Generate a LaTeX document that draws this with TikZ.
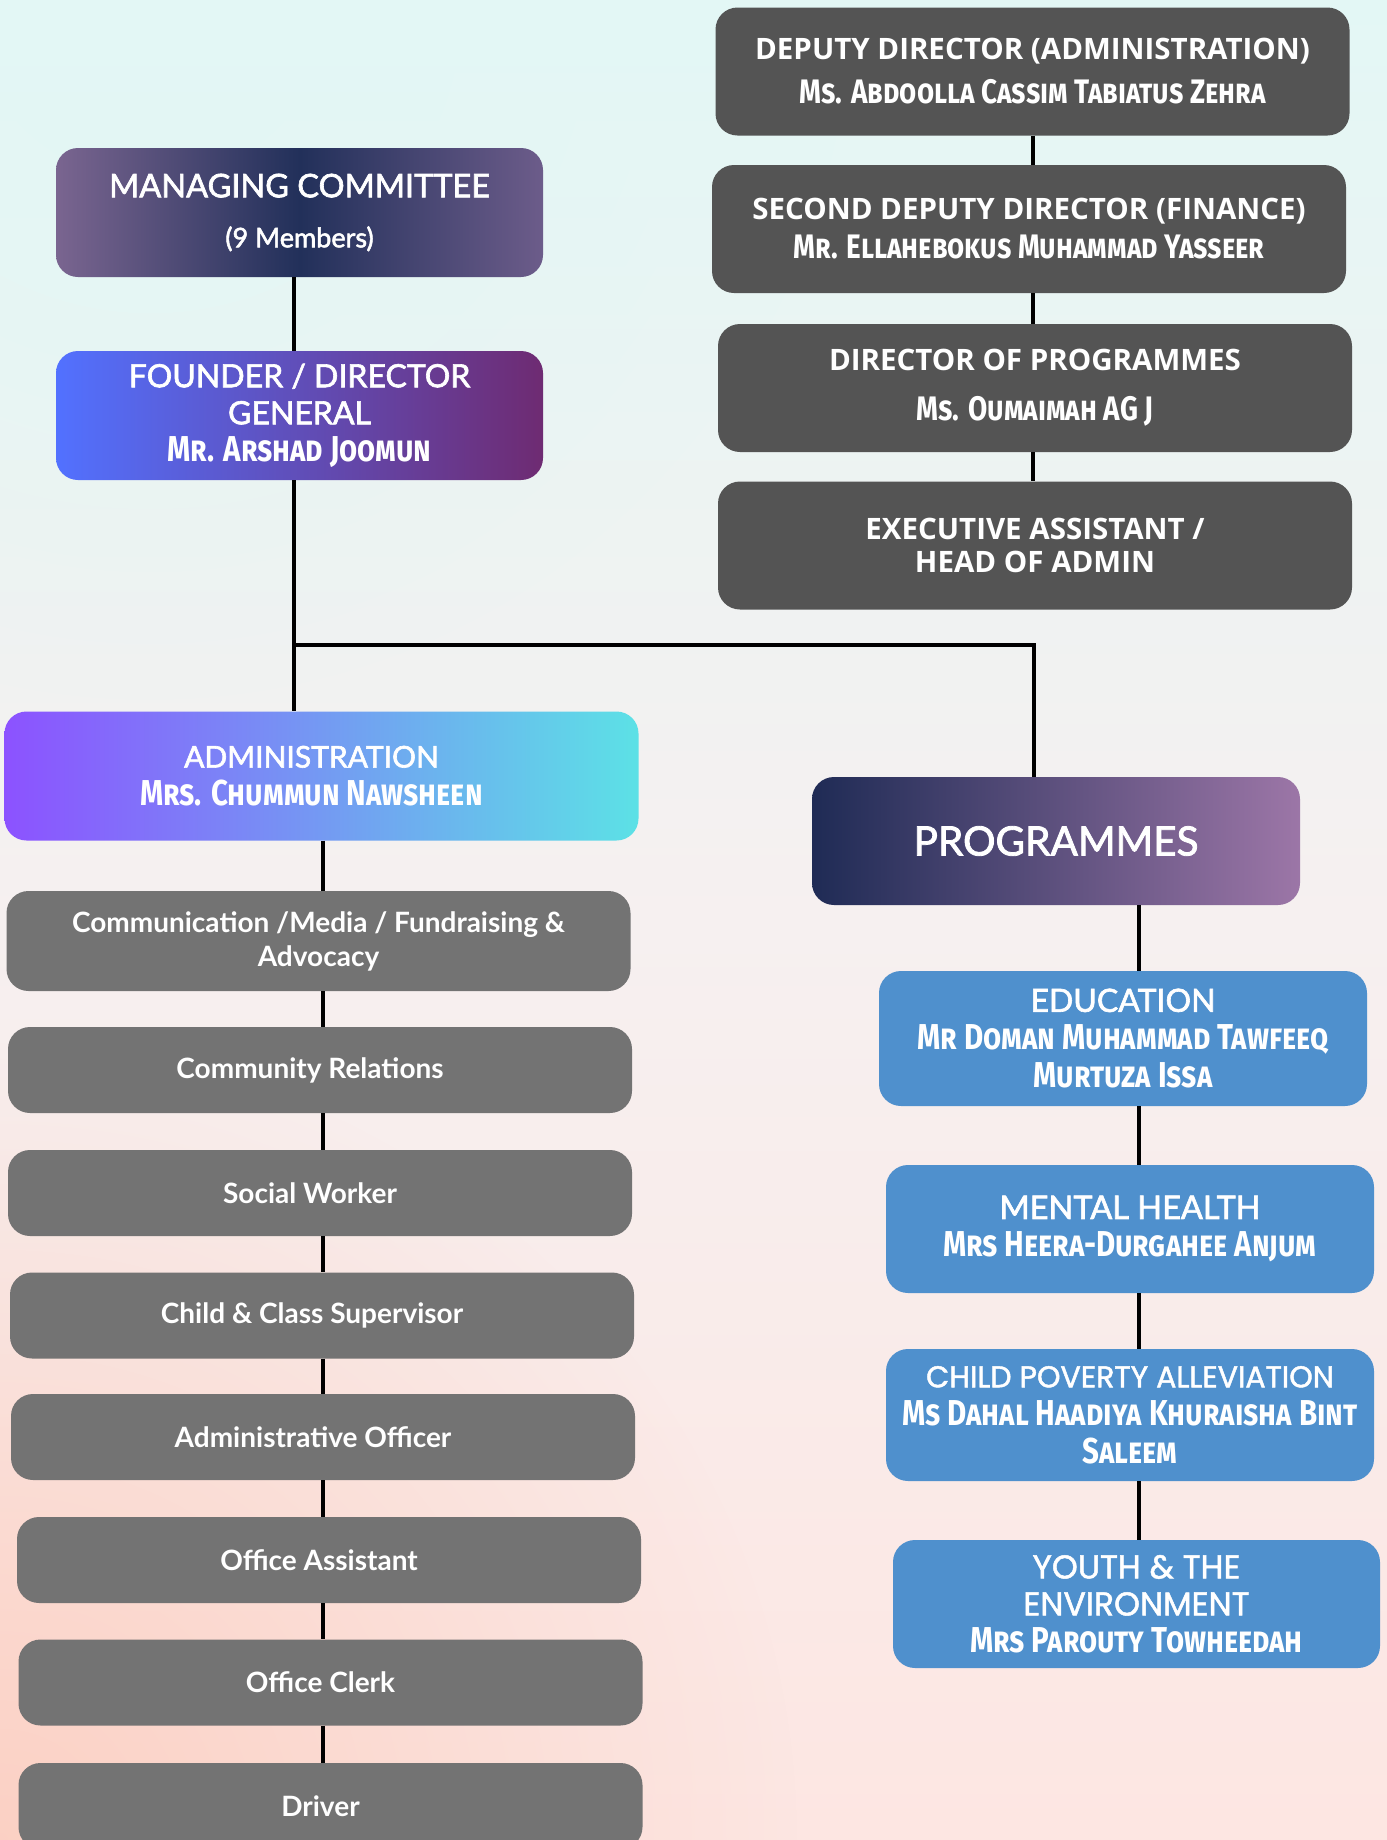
\documentclass[tikz,border=0pt]{standalone}
\usepackage{fontspec}
\setmainfont{Lato}
\newfontfamily\lmed[FakeBold=2]{Lato}
\newfontfamily\osans{Open Sans}
\newfontfamily\pop[FakeBold=1.5]{Poppins}
\newfontfamily\namefont[FakeStretch=0.82]{Fira Sans}
\usetikzlibrary{fadings}
\newcommand{\nm}[2][36]{{\namefont\bfseries\scshape\fontsize{#1}{#1}\selectfont #2}}
\newcommand{\fs}[2]{\fontsize{#1}{#2}\selectfont}
\newcommand{\lft}[1]{#1\hspace*{20pt}}
\definecolor{bgtop}{HTML}{E3F7F5}
\definecolor{bgmid}{HTML}{F6F0F0}
\definecolor{bgbot}{HTML}{FDE6E2}
\definecolor{bgsalmon}{HTML}{FBCDBF}
\definecolor{dkgray}{HTML}{545454}
\definecolor{mdgray}{HTML}{737373}
\definecolor{pblue}{HTML}{4F90CD}
\definecolor{mcA}{HTML}{7A6590}
\definecolor{mcB}{HTML}{22305A}
\definecolor{mcC}{HTML}{6C5C8A}
\definecolor{fdA}{HTML}{5271FF}
\definecolor{fdB}{HTML}{6E2B72}
\definecolor{adA}{HTML}{8C52FF}
\definecolor{adB}{HTML}{5CE1E6}
\definecolor{prA}{HTML}{1F2B55}
\definecolor{prB}{HTML}{9C76A7}
\tikzfading[name=glow, inner color=transparent!0, outer color=transparent!100]
\begin{document}
\begin{tikzpicture}[x=1pt,y=-1pt,
  box/.style={rounded corners=22pt, inner sep=0pt, align=center, text=white},
  darkbox/.style={box, fill=dkgray, minimum width=634pt, minimum height=128pt},
  greybox/.style={box, fill=mdgray, minimum width=624pt, minimum height=86pt, font=\bfseries\fs{28}{34}},
  bluebox/.style={box, fill=pblue, minimum width=488pt, minimum height=128pt},
  link/.style={line width=3.5pt, black}]
\useasboundingbox (0,0) rectangle (1387,1840);
\clip (0,0) rectangle (1387,1840);
% background
\shade[top color=bgtop, bottom color=bgbot, middle color=bgmid] (0,0) rectangle (1387,1840);
\fill[bgsalmon, path fading=glow, opacity=0.85] (0,1840) circle (800);
\fill[bgtop, path fading=glow, opacity=0.9] (150,0) circle (700);

% right top stack
\node[darkbox, font=\fs{29.5}{44}] (dd) at (1032.5,71.5)
  {{\osans\bfseries DEPUTY DIRECTOR (ADMINISTRATION)}\\\nm[34]{Ms. Abdoolla Cassim Tabiatus Zehra}};
\node[darkbox, font=\fs{29.5}{39}] (sdd) at (1029,229)
  {{\osans\bfseries SECOND DEPUTY DIRECTOR (FINANCE)}\\\nm[34]{Mr. Ellahebokus Muhammad Yasseer}};
\node[darkbox, font=\fs{29.5}{50}] (dp) at (1035,388)
  {{\osans\bfseries DIRECTOR OF PROGRAMMES}\\\nm[34]{Ms. Oumaimah AG J}};
\node[darkbox, font=\osans\bfseries\fs{29.5}{33}] (ea) at (1035,545.5)
  {EXECUTIVE ASSISTANT /\\HEAD OF ADMIN};

% left top
\node[box, minimum width=487pt, minimum height=129pt, left color=mcA, right color=mcC, middle color=mcB,
  font=\lmed\fs{32.5}{50}] (mc) at (299.5,212.5)
  {MANAGING COMMITTEE\\{\fs{27}{50}(9 Members)}};
\node[box, minimum width=487pt, minimum height=129pt, left color=fdA, right color=fdB,
  font=\lmed\fs{32}{37}] (fd) at (299.5,415.5)
  {FOUNDER / DIRECTOR\\GENERAL\\\nm{Mr. Arshad Joomun}};

% administration
\node[box, minimum width=634pt, minimum height=129pt, left color=adA, right color=adB,
  font=\lmed\fs{30}{38}] (adm) at (321.5,776)
  {\lft{ADMINISTRATION}\\\lft{\nm{Mrs. Chummun Nawsheen}}};
\node[greybox, minimum height=100pt] (comm) at (318.5,941)
  {Communication /Media / Fundraising \&\\Advocacy};
\node[greybox] (cr) at (320,1070) {\lft{Community Relations}};
\node[greybox] (sw) at (320,1193) {\lft{Social Worker}};
\node[greybox] (cc) at (322,1315.5) {\lft{Child \& Class Supervisor}};
\node[greybox] (ao) at (323,1437) {\lft{Administrative Officer}};
\node[greybox] (oa) at (329,1560) {\lft{Office Assistant}};
\node[greybox] (oc) at (330.5,1682.5) {\lft{Office Clerk}};
\node[greybox] (dr) at (330.5,1806) {\lft{Driver}};

% programmes
\node[box, minimum width=488pt, minimum height=128pt, left color=prA, right color=prB,
  font=\lmed\fs{40.5}{48}] (prog) at (1056,841) {PROGRAMMES};
\node[bluebox, minimum height=135pt, font=\lmed\fs{32}{38}] (edu) at (1123,1038.5)
  {EDUCATION\\\nm{Mr Doman Muhammad Tawfeeq}\\\nm{Murtuza Issa}};
\node[bluebox, font=\lmed\fs{32.5}{38}] (mh) at (1130,1229)
  {MENTAL HEALTH\\\nm{Mrs Heera-Durgahee Anjum}};
\node[bluebox, minimum height=132pt, font=\fs{30}{38}] (cpa) at (1130,1415)
  {{\pop CHILD POVERTY ALLEVIATION}\\\nm{Ms Dahal Haadiya Khuraisha Bint}\\\nm{Saleem}};
\node[bluebox, minimum width=487pt, font=\fs{33}{37}] (yth) at (1136.5,1604)
  {{\pop YOUTH \& THE}\\{\pop ENVIRONMENT}\\\nm{Mrs Parouty Towheedah}};

% connector columns
\coordinate (c1) at (294,0);
\coordinate (c2) at (1033,0);
\coordinate (c3) at (323,0);
\coordinate (c4) at (1139,0);
\coordinate (jn) at (1034,645);

\draw[link] (c2 |- dd.south) -- (c2 |- sdd.north);
\draw[link] (c2 |- sdd.south) -- (c2 |- dp.north);
\draw[link] (c2 |- dp.south) -- (c2 |- ea.north);

\draw[link] (c1 |- mc.south) -- (c1 |- fd.north);
\draw[link] (c1 |- fd.south) -- (c1 |- adm.north);
\draw[link] (c1 |- jn) -- (jn) -- (jn |- prog.north);

\draw[link] (c3 |- adm.south) -- (c3 |- comm.north);
\draw[link] (c3 |- comm.south) -- (c3 |- cr.north);
\draw[link] (c3 |- cr.south) -- (c3 |- sw.north);
\draw[link] (c3 |- sw.south) -- (c3 |- cc.north);
\draw[link] (c3 |- cc.south) -- (c3 |- ao.north);
\draw[link] (c3 |- ao.south) -- (c3 |- oa.north);
\draw[link] (c3 |- oa.south) -- (c3 |- oc.north);
\draw[link] (c3 |- oc.south) -- (c3 |- dr.north);

\draw[link] (c4 |- prog.south) -- (c4 |- edu.north);
\draw[link] (c4 |- edu.south) -- (c4 |- mh.north);
\draw[link] (c4 |- mh.south) -- (c4 |- cpa.north);
\draw[link] (c4 |- cpa.south) -- (c4 |- yth.north);
\end{tikzpicture}
\end{document}
